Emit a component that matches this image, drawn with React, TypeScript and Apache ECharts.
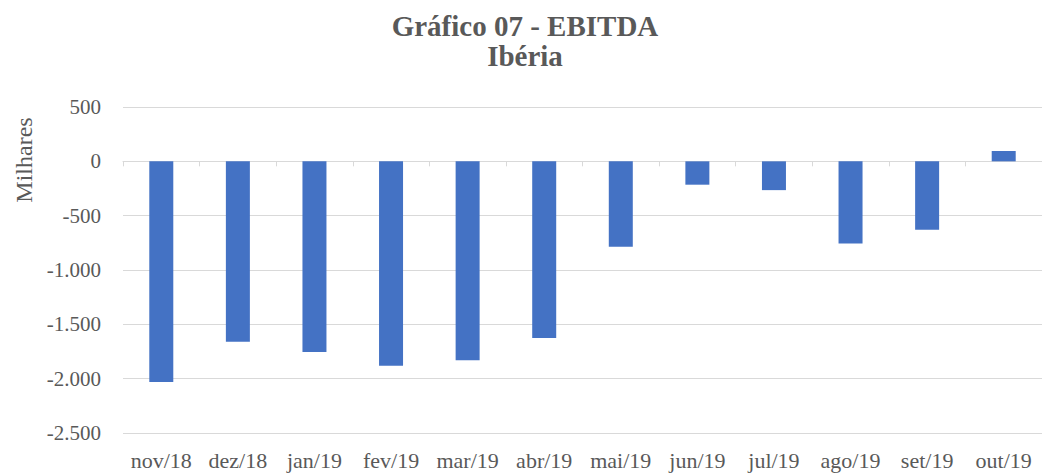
import React, { useEffect, useRef } from "react";
import * as echarts from "echarts";

const categories = ["nov/18", "dez/18", "jan/19", "fev/19", "mar/19", "abr/19", "mai/19", "jun/19", "jul/19", "ago/19", "set/19", "out/19"];
const ebitda = [-2030, -1660, -1755, -1880, -1830, -1625, -785, -215, -265, -755, -630, 95];
const yTicks = { min: -2500, max: 500, interval: 500 };
const titleLines = ["Gráfico 07 - EBITDA", "Ibéria"];
const yName = "Milhares";

const FONT = "Liberation Serif";
const GREY = "#595959";

function fmt(v: number): string {
  const s = Math.abs(v).toString().replace(/\B(?=(\d{3})+(?!\d))/g, ".");
  return v < 0 ? "-" + s : s;
}

export default function App() {
  const ref = useRef<HTMLDivElement>(null);
  useEffect(() => {
    if (!ref.current) return;
    const chart = echarts.init(ref.current, undefined, { renderer: "svg" });
    chart.setOption({
      animation: false,
      backgroundColor: "#ffffff",
      textStyle: { fontFamily: FONT },
      graphic: [
        {
          type: "text",
          x: 525,
          y: 11,
          style: {
            text: titleLines.join("\n"),
            fontFamily: FONT,
            fontWeight: "bold",
            fontSize: 29,
            lineHeight: 30,
            fill: GREY,
            align: "center",
            verticalAlign: "top",
          },
        },
        {
          type: "text",
          x: 24,
          y: 160,
          rotation: Math.PI / 2,
          style: { text: yName, fontFamily: FONT, fontSize: 24, fill: GREY, align: "center", verticalAlign: "middle" },
        },
      ],
      grid: { left: 123, right: -4, top: 107, bottom: 42, containLabel: false },
      xAxis: [
        {
          type: "category",
          data: categories,
          position: "bottom",
          axisLine: { show: false, onZero: false },
          axisTick: { show: false },
          axisLabel: { margin: 16, interval: 0, fontFamily: FONT, fontSize: 22, color: GREY },
        },
        {
          type: "category",
          data: categories,
          position: "bottom",
          axisLine: { show: true, onZero: true, lineStyle: { color: "#d9d9d9", width: 1 } },
          axisTick: { show: true, length: 5, lineStyle: { color: "#d9d9d9" } },
          axisLabel: { show: false },
        },
      ],
      yAxis: {
        type: "value",
        min: yTicks.min,
        max: yTicks.max,
        interval: yTicks.interval,
        axisLine: { show: false },
        axisTick: { show: false },
        splitLine: { lineStyle: { color: "#d9d9d9", width: 1 } },
        axisLabel: { margin: 22, fontFamily: FONT, fontSize: 21, color: GREY, formatter: (v: number) => fmt(v) },
      },
      series: [
        {
          type: "bar",
          data: ebitda,
          xAxisIndex: 0,
          barWidth: 24,
          itemStyle: { color: "#4472C4" },
        },
      ],
    });
    return () => chart.dispose();
  }, []);
  return <div ref={ref} style={{ position: "fixed", left: 0, top: 0, width: 1042, height: 475 }} />;
}
